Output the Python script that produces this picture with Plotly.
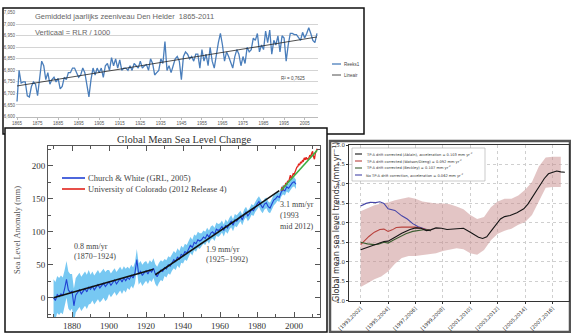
import numpy as np
import plotly.graph_objects as go

W, H = 571, 333


def px(x):
    return x / W


def py(y):
    return 1 - y / H


# ---------------- Den Helder annual mean sea level (RLR / 1000), 1865-2011
den_helder_first_year = 1865
den_helder_level = [
    6.665, 6.800, 6.745, 6.750, 6.750,
    6.690, 6.685, 6.730, 6.750, 6.740, 6.690, 6.760, 6.840, 6.820, 6.760,
    6.790, 6.740, 6.760, 6.770, 6.750, 6.765, 6.720, 6.730, 6.770, 6.760,
    6.790, 6.790, 6.810, 6.810, 6.790, 6.770, 6.780, 6.810, 6.790, 6.730,
    6.685, 6.760, 6.810, 6.780, 6.810, 6.790, 6.810, 6.770, 6.820, 6.830,
    6.800, 6.855, 6.820, 6.850, 6.810, 6.845, 6.800, 6.810, 6.810, 6.800,
    6.820, 6.800, 6.830, 6.820, 6.810, 6.840, 6.810, 6.820, 6.825, 6.800,
    6.850, 6.830, 6.780, 6.790, 6.800, 6.850, 6.830, 6.925, 6.800, 6.820,
    6.790, 6.820, 6.850, 6.860, 6.840, 6.760, 6.860, 6.880, 6.870, 6.850,
    6.860, 6.840, 6.870, 6.870, 6.810, 6.890, 6.840, 6.870, 6.820, 6.900,
    6.840, 6.810, 6.870, 6.920, 6.960, 6.910, 6.840, 6.880, 6.860, 6.830,
    6.810, 6.860, 6.890, 6.870, 6.820, 6.860, 6.830, 6.900, 6.880, 6.890,
    6.940, 6.930, 6.960, 6.880, 6.910, 6.890, 6.970, 6.920, 6.975, 6.870,
    6.930, 6.910, 6.950, 6.880, 6.950, 6.940, 6.840, 6.910, 6.960, 6.960,
    6.955, 6.955, 6.940, 6.930, 6.965, 6.940, 6.960, 6.985, 6.960, 6.930,
    6.920, 6.960,
]
den_helder_years = list(range(den_helder_first_year, den_helder_first_year + len(den_helder_level)))
den_helder_ticks = list(range(1865, 2006, 10))
den_helder_levels_axis = [6.60, 6.65, 6.70, 6.75, 6.80, 6.85, 6.90, 6.95, 7.00, 7.05]
den_helder_r2 = "0,7625"

# ---------------- Global mean sea level (Church & White, annual means, mm)
cw_first_year = 1870
cw_level = [
    0, -4, 5, 2, 6, 3, 14, 28, 12, 8,
    10, -12, 4, 8, 12, 6, 10, 14, 9, 16,
    13, 18, 12, 16, 20, 15, 18, 22, 17, 20,
    24, 19, 23, 27, 21, 25, 29, 24, 30, 26,
    31, 28, 34, 30, 38, 58, 36, 40, 34, 38,
    41, 36, 42, 39, 45, 36, 32, 38, 42, 40,
    46, 44, 50, 48, 54, 58, 55, 62, 58, 66,
    64, 70, 68, 75, 80, 76, 84, 82, 88, 86,
    88, 92, 90, 96, 92, 98, 100, 96, 104, 102,
    104, 108, 102, 110, 106, 112, 116, 110, 118, 116,
    120, 124, 118, 126, 130, 124, 128, 134, 132, 138,
    142, 146, 140, 136, 142, 144, 138, 136, 142, 148,
    150, 154, 152, 160, 164, 162, 168, 166, 170, 174,
    176, 172,
]
cw_years = list(range(cw_first_year, cw_first_year + len(cw_level)))
# one-sigma spread per decade, 1870s .. 2000s
cw_spread_by_decade = [28, 26, 22, 18, 16, 15, 13, 12, 10, 9, 8, 8, 7, 7]

# University of Colorado altimetry (half-yearly, mm)
cu_years = [1993.0 + 0.5 * i for i in range(40)]
cu_level = [
    162, 168, 163, 170, 168, 174, 171, 177, 175, 184,
    186, 180, 183, 188, 187, 192, 193, 198, 199, 203,
    201, 206, 204, 208, 207, 212, 209, 213, 210, 211,
    212, 216, 214, 219, 222, 214, 210, 219, 224, 226,
]

# Piecewise rates (mm/yr) with their periods and starting levels (mm)
rate_early, early_period, early_start = 0.8, (1870, 1924), 0.0
rate_mid, mid_period, mid_start = 1.9, (1925, 1992), 35.0
rate_alt, alt_period, alt_start = 3.1, (1993, 2012.5), 163.0

# ---------------- 10-year window trends (mm/yr), x = window start year
win_labels = ["[1993,2002]", "[1995,2004]", "[1997,2006]", "[1999,2008]",
              "[2001,2010]", "[2003,2012]", "[2005,2014]", "[2007,2016]"]
win_ticks = [1993, 1995, 1997, 1999, 2001, 2003, 2005, 2007]

ablain_t = [1993.0, 1993.4, 1993.7, 1994.1, 1994.4, 1994.7, 1995.0, 1995.3, 1995.6, 1996.0,
            1996.3, 1996.6, 1997.0, 1997.4, 1997.8, 1998.1, 1998.5, 1998.9, 1999.3, 1999.7,
            2000.1, 2000.5, 2001.0, 2001.3, 2001.6, 2001.9, 2002.2, 2002.5, 2002.9, 2003.2,
            2003.5, 2003.9, 2004.4, 2004.9, 2005.2, 2005.5, 2005.8, 2006.1, 2006.4, 2006.7,
            2007.0, 2007.3, 2007.6, 2007.9]
ablain_v = [2.31, 2.36, 2.40, 2.43, 2.48, 2.52, 2.53, 2.58, 2.65, 2.73,
            2.79, 2.83, 2.87, 2.86, 2.80, 2.82, 2.87, 2.86, 2.83, 2.84,
            2.84, 2.86, 2.76, 2.70, 2.63, 2.60, 2.64, 2.78, 2.96, 3.10,
            3.16, 3.19, 3.26, 3.36, 3.48, 3.65, 3.82, 3.99, 4.14, 4.26,
            4.30, 4.33, 4.31, 4.30]

watson_t = [1993.0, 1993.3, 1993.6, 1994.0, 1994.4, 1994.7, 1995.0, 1995.3, 1995.6, 1996.0,
            1996.6, 1997.0, 1997.4, 1997.8, 1998.1]
watson_v = [2.44, 2.55, 2.65, 2.76, 2.83, 2.84, 2.78, 2.82, 2.88, 2.89,
            2.88, 2.89, 2.86, 2.82, 2.80]

beckley_t = [1993.0, 1993.5, 1994.0, 1994.3, 1994.7, 1995.0, 1995.4, 1995.9, 1996.3, 1996.8,
             1997.3, 1997.7, 1998.1]
beckley_v = [2.50, 2.46, 2.44, 2.45, 2.50, 2.48, 2.56, 2.65, 2.72, 2.78,
             2.81, 2.83, 2.80]

nocorr_t = [1993.0, 1993.4, 1993.7, 1994.1, 1994.4, 1994.7, 1995.0, 1995.5, 1996.0, 1996.4,
            1996.8, 1997.2, 1997.7, 1998.1]
nocorr_v = [3.43, 3.50, 3.53, 3.52, 3.54, 3.50, 3.36, 3.32, 3.18, 3.10,
            2.98, 2.90, 2.84, 2.80]

band_t = [1993.0, 1993.5, 1994.0, 1994.5, 1995.0, 1995.5, 1996.0, 1996.5, 1997.0, 1997.5,
          1998.0, 1998.5, 1999.0, 1999.5, 2000.0, 2000.5, 2001.0, 2001.5, 2002.0, 2002.5,
          2003.0, 2003.5, 2004.0, 2004.5, 2005.0, 2005.5, 2006.0, 2006.5, 2007.0, 2007.6]
band_hi = [3.30, 3.38, 3.45, 3.50, 3.52, 3.58, 3.62, 3.66, 3.62, 3.55,
           3.52, 3.50, 3.50, 3.48, 3.42, 3.35, 3.20, 3.10, 3.15, 3.40,
           3.55, 3.62, 3.62, 3.70, 3.85, 4.05, 4.45, 4.68, 4.70, 4.70]
band_lo = [1.35, 1.45, 1.55, 1.62, 1.75, 1.95, 2.10, 2.15, 2.15, 2.18,
           2.20, 2.22, 2.28, 2.32, 2.35, 2.32, 2.22, 2.18, 2.30, 2.55,
           2.72, 2.80, 2.85, 2.95, 3.02, 3.20, 3.55, 3.90, 3.92, 3.92]

legend_trends = [
    ("TP-A drift corrected (Ablain), acceleration = 0.103 mm yr<sup>-2</sup>", "#151515"),
    ("TP-A drift corrected (Watson/Dieng) = 0.092 mm yr<sup>-2</sup>", "#b8413c"),
    ("TP-A drift corrected (Beckley) = 0.107 mm yr<sup>-2</sup>", "#3d5e32"),
    ("No TP-A drift correction, acceleration = 0.062 mm yr<sup>-2</sup>", "#4646a8"),
]

fig = go.Figure()

# ---- panel 1: Den Helder
fig.add_trace(go.Scatter(x=den_helder_years, y=den_helder_level, mode="lines",
                         line=dict(color="#4a7ebb", width=1.3), xaxis="x", yaxis="y",
                         showlegend=False))
slope, icept = np.polyfit(den_helder_years, den_helder_level, 1)
trend_x = [den_helder_years[0], den_helder_years[-1]]
fig.add_trace(go.Scatter(x=trend_x, y=[icept + slope * v for v in trend_x], mode="lines",
                         line=dict(color="#222222", width=0.8), xaxis="x", yaxis="y",
                         showlegend=False))

# ---- panel 2: global mean sea level
spread = np.repeat(cw_spread_by_decade, 10)[:len(cw_level)]
cw = np.array(cw_level, dtype=float)
fig.add_trace(go.Scatter(x=cw_years + cw_years[::-1],
                         y=list(cw + spread) + list((cw - spread)[::-1]),
                         fill="toself", fillcolor="rgba(95,190,240,0.85)",
                         line=dict(width=0), mode="lines", xaxis="x2", yaxis="y2",
                         showlegend=False, hoverinfo="skip"))
fig.add_trace(go.Scatter(x=cw_years, y=cw_level, mode="lines",
                         line=dict(color="#2142d4", width=1.1), xaxis="x2", yaxis="y2",
                         showlegend=False))
fig.add_trace(go.Scatter(x=cu_years, y=cu_level, mode="lines",
                         line=dict(color="#e2231c", width=1.3), xaxis="x2", yaxis="y2",
                         showlegend=False))
for rate, (t0, t1), start, col in [(rate_early, early_period, early_start, "#111111"),
                                    (rate_mid, mid_period, mid_start, "#111111"),
                                    (rate_alt, alt_period, alt_start, "#3cb043")]:
    fig.add_trace(go.Scatter(x=[t0, t1], y=[start, start + rate * (t1 - t0)], mode="lines",
                             line=dict(color=col, width=1.6), xaxis="x2", yaxis="y2",
                             showlegend=False))

# ---- panel 3: 10-year trends
fig.add_trace(go.Scatter(x=band_t + band_t[::-1], y=band_hi + band_lo[::-1], fill="toself",
                         fillcolor="rgba(200,140,140,0.5)", line=dict(width=0), mode="lines",
                         xaxis="x3", yaxis="y3", showlegend=False, hoverinfo="skip"))
for t, v, (_, col) in [(nocorr_t, nocorr_v, legend_trends[3]),
                       (watson_t, watson_v, legend_trends[1]),
                       (beckley_t, beckley_v, legend_trends[2]),
                       (ablain_t, ablain_v, legend_trends[0])]:
    fig.add_trace(go.Scatter(x=t, y=v, mode="lines", line=dict(color=col, width=1.1),
                             xaxis="x3", yaxis="y3", showlegend=False))

shapes = [
    # panel frames
    dict(type="rect", xref="paper", yref="paper", x0=px(3), x1=px(364), y0=py(134), y1=py(8),
         line=dict(color="#111", width=1.5), fillcolor="white", layer="below"),
    dict(type="rect", xref="paper", yref="paper", x0=px(5), x1=px(327), y0=py(332), y1=py(128),
         line=dict(color="#111", width=1.5), fillcolor="white", layer="below"),
    dict(type="rect", xref="paper", yref="paper", x0=px(330), x1=px(570), y0=py(332), y1=py(141),
         line=dict(color="#555", width=2.5), fillcolor="white", layer="below"),
    # panel 1 legend swatches
    dict(type="line", xref="paper", yref="paper", x0=px(332), x1=px(341), y0=py(64), y1=py(64),
         line=dict(color="#4a7ebb", width=1.3)),
    dict(type="line", xref="paper", yref="paper", x0=px(332), x1=px(341), y0=py(75), y1=py(75),
         line=dict(color="#222", width=0.8)),
    # panel 2 legend swatches
    dict(type="line", xref="paper", yref="paper", x0=px(62), x1=px(85), y0=py(178), y1=py(178),
         line=dict(color="#2142d4", width=1.6)),
    dict(type="line", xref="paper", yref="paper", x0=px(62), x1=px(85), y0=py(189), y1=py(189),
         line=dict(color="#e2231c", width=1.6)),
    # panel 3 legend box
    dict(type="rect", xref="paper", yref="paper", x0=px(352), x1=px(485), y0=py(181), y1=py(148),
         line=dict(color="#aaa", width=0.6), fillcolor="white"),
]
for i, (_, col) in enumerate(legend_trends):
    yy = 154 + 7 * i
    shapes.append(dict(type="line", xref="paper", yref="paper", x0=px(355), x1=px(362),
                       y0=py(yy), y1=py(yy), line=dict(color=col, width=1.1)))

SANS = "Liberation Sans"
SERIF = "Liberation Serif"
MPL = "DejaVu Sans"


def txt(x, y, s, size, color, family, xanchor="left", yanchor="middle", angle=0):
    return dict(x=px(x), y=py(y), xref="paper", yref="paper", text=s, showarrow=False,
                font=dict(size=size, color=color, family=family), xanchor=xanchor,
                yanchor=yanchor, textangle=angle, borderpad=0)


annotations = [
    txt(34, 17, "Gemiddeld jaarlijks zeeniveau Den Helder&nbsp;&nbsp;1865-2011", 7.5, "#666", SANS),
    txt(34, 32, "Verticaal = RLR / 1000", 7.5, "#666", SANS),
    txt(280, 78, "R² = " + den_helder_r2, 4.5, "#444", SANS),
    txt(343, 64, "Reeks1", 4.5, "#444", SANS),
    txt(343, 75, "Lineair", 4.5, "#444", SANS),
    txt(184, 139, "Global Mean Sea Level Change", 10.5, "#333", SERIF, xanchor="center"),
    txt(87, 178, "Church &amp; White (GRL, 2005)", 8.5, "#444", SERIF),
    txt(87, 189, "University of Colorado (2012 Release 4)", 8.5, "#444", SERIF),
    txt(73, 246, "0.8 mm/yr", 8, "#444", SERIF),
    txt(73, 256, "(1870−1924)", 8, "#444", SERIF),
    txt(205, 249, "1.9 mm/yr", 8, "#444", SERIF),
    txt(205, 259, "(1925−1992)", 8, "#444", SERIF),
    txt(279, 204, "3.1 mm/yr", 8, "#444", SERIF),
    txt(279, 215, "(1993", 8, "#444", SERIF),
    txt(279, 226, "mid 2012)", 8, "#444", SERIF),
    txt(17, 230, "Sea Level Anomaly (mm)", 8.5, "#555", SERIF, xanchor="center", angle=-90),
    txt(336, 222, "Global mean sea level trends (mm yr<sup>−1</sup>)", 8, "#333", MPL,
        xanchor="center", angle=-90),
]
for i, (lab, col) in enumerate(legend_trends):
    annotations.append(txt(365, 154 + 7 * i, lab, 3.6, "#333", MPL))

fig.update_layout(
    width=W, height=H, margin=dict(l=0, r=0, t=0, b=0),
    paper_bgcolor="white", plot_bgcolor="rgba(0,0,0,0)",
    showlegend=False, shapes=shapes, annotations=annotations,
    xaxis=dict(domain=[px(16), px(318)], range=[1864.5, 2011.5], tickvals=den_helder_ticks,
               anchor="y", automargin=False,
               ticks="outside", ticklen=2, tickcolor="#bbb", showline=True, linecolor="#bbb",
               showgrid=False, zeroline=False, tickfont=dict(size=4.5, color="#555", family=SANS)),
    yaxis=dict(domain=[py(116.5), py(12.7)], range=[6.6, 7.05], tickvals=den_helder_levels_axis,
               anchor="x", automargin=False,
               ticktext=[f"{v:.3f}".replace(".", ",") for v in den_helder_levels_axis],
               showgrid=True, gridcolor="#d4d4d4", gridwidth=1, zeroline=False, showline=False,
               tickfont=dict(size=4.5, color="#555", family=SANS)),
    xaxis2=dict(domain=[px(48), px(320)], range=[1867, 2014], tick0=1880, dtick=20,
                anchor="y2", automargin=False,
                ticks="inside", ticklen=5, tickcolor="#555", mirror="ticks", showline=True,
                linecolor="#555", linewidth=1, showgrid=False, zeroline=False,
                minor=dict(tick0=1870, dtick=10, ticks="inside", ticklen=3, tickcolor="#555"),
                tickfont=dict(size=9, color="#333", family=SERIF)),
    yaxis2=dict(domain=[py(317), py(146)], range=[-29, 230], tick0=0, dtick=50,
                anchor="x2", automargin=False,
                ticks="inside", ticklen=5, tickcolor="#555", mirror="ticks", showline=True,
                linecolor="#555", linewidth=1, showgrid=False, zeroline=False,
                minor=dict(tick0=0, dtick=25, ticks="inside", ticklen=3, tickcolor="#555"),
                tickfont=dict(size=9, color="#333", family=SERIF)),
    xaxis3=dict(domain=[px(349), px(569)], range=[1992.15, 2008.2], tickvals=win_ticks,
                anchor="y3", automargin=False,
                ticktext=win_labels, tickangle=-45, showgrid=True, gridcolor="#cfcfcf",
                griddash="dot", gridwidth=0.8, showline=True, mirror=True, linecolor="#333",
                linewidth=0.8, zeroline=False, ticks="outside", ticklen=2, tickcolor="#333",
                tickfont=dict(size=5, color="#333", family=MPL)),
    yaxis3=dict(domain=[py(300.7), py(145)], range=[1.0, 5.0], dtick=0.5, tick0=1.0,
                anchor="x3", automargin=False,
                tickformat=".1f", showgrid=True, gridcolor="#cfcfcf", griddash="dot",
                gridwidth=0.8, showline=True, mirror=True, linecolor="#333", linewidth=0.8,
                zeroline=False, ticks="outside", ticklen=2, tickcolor="#333",
                tickfont=dict(size=5.5, color="#333", family=MPL)),
)

fig.write_html("out.html")
